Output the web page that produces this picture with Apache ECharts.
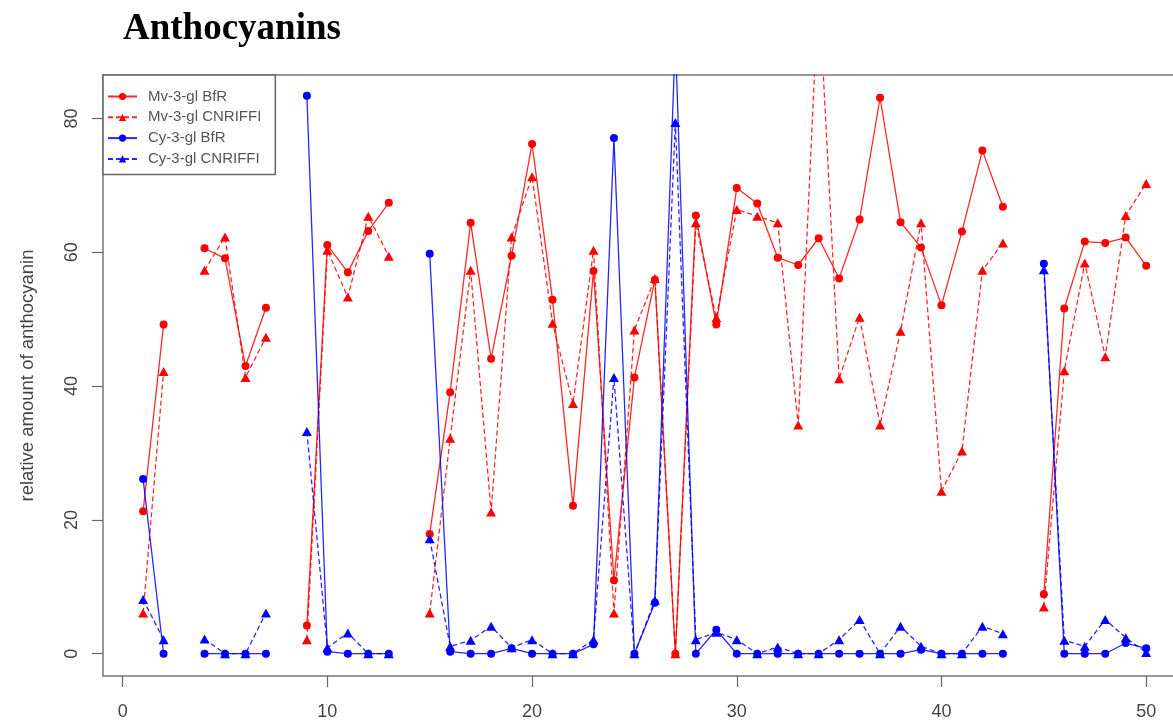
<!DOCTYPE html>
<html>
<head>
<meta charset="utf-8">
<script src="https://cdn.jsdelivr.net/npm/echarts@6/dist/echarts.min.js"></script>
<style>
html,body{margin:0;padding:0;background:#fff;}
#chart{width:1173px;height:721px;}
</style>
</head>
<body>
<div id="chart"></div>
<script>
// ---- data ----
var xValues = [1,2,3,4,5,6,7,8,9,10,11,12,13,14,15,16,17,18,19,20,21,22,23,24,25,26,27,28,29,30,31,32,33,34,35,36,37,38,39,40,41,42,43,44,45,46,47,48,49,50];
var mvBfR = [21.3,49.2,null,60.6,59.1,43.0,51.7,null,4.2,61.1,57.0,63.2,67.4,null,17.9,39.1,64.4,44.1,59.5,76.2,52.9,22.1,57.2,11.0,41.3,55.9,0,65.5,49.2,69.6,67.3,59.2,58.1,62.1,56.1,64.9,83.1,64.5,60.7,52.1,63.1,75.2,66.8,null,8.9,51.6,61.6,61.4,62.2,58.0];
var mvCN  = [6.1,42.2,null,57.3,62.3,41.3,47.3,null,2.1,60.3,53.3,65.4,59.4,null,6.1,32.2,57.3,21.2,62.3,71.3,49.4,37.4,60.3,6.1,48.4,56.1,0,64.4,50.2,66.4,65.4,64.4,34.2,100,41.1,50.3,34.2,48.2,64.4,24.3,30.3,57.3,61.4,null,7.0,42.3,58.4,44.4,65.5,70.3];
var cyBfR = [26.1,0,null,0,0,0,0,null,83.4,0.3,0,0,0,null,59.8,0.3,0,0,0.8,0,0,0,1.4,77.1,0,7.6,92,0,3.6,0,0,0,0,0,0,0,0,0,0.6,0,0,0,0,null,58.3,0,0,0,1.6,0.8];
var cyCN  = [8.1,2.1,null,2.2,0,0,6.1,null,33.2,0.9,3.1,0,0,null,17.2,1.1,2.0,4.1,0.9,2.1,0,0,2.1,41.3,0,8.0,79.4,2.1,3.2,2.1,0,1.0,0,0,2.1,5.1,0,4.1,1.1,0,0,4.1,3.0,null,57.4,2.0,1.1,5.1,2.4,0.2];
var seriesNames = ['Mv-3-gl BfR','Mv-3-gl CNRIFFI','Cy-3-gl BfR','Cy-3-gl CNRIFFI'];
var xTicks = [0,10,20,30,40,50];
var yTicks = [0,20,40,60,80];
var titleText = 'Anthocyanins';
var yAxisName = 'relative amount of anthocyanin';

function pairs(vals){ return xValues.map(function(x,i){ return [x, vals[i]]; }); }

var RED = '#ff0000', BLUE = '#0000ff';
function mk(name, vals, color, dashed, tri){
  return {
    name: name, type: 'line', data: pairs(vals), connectNulls: false,
    xAxisIndex: 0, yAxisIndex: 0,
    symbol: tri ? 'triangle' : 'circle',
    symbolSize: tri ? [10,9] : 8,
    showAllSymbol: true,
    itemStyle: {color: color},
    lineStyle: {color: color, width: 1.3, type: dashed ? [5,3] : 'solid', opacity: 0.85},
    emphasis: {disabled: true},
    animation: false
  };
}

var AX = '#777';
var chart = echarts.init(document.getElementById('chart'), null, {renderer: 'canvas'});
chart.setOption({
  animation: false,
  backgroundColor: '#fff',
  title: {
    text: titleText, left: 123, top: 11, padding: 0,
    textStyle: {fontFamily: 'Liberation Serif', fontWeight: 'bold', fontSize: 37, color: '#000'}
  },
  legend: {
    orient: 'vertical', left: 103, top: 75,
    padding: [14, 14, 8, 4],
    itemGap: 5.8, itemWidth: 29, itemHeight: 9,
    backgroundColor: '#fff', borderColor: '#666', borderWidth: 1.5,
    textStyle: {fontFamily: 'Liberation Sans', fontSize: 15, color: '#555', padding: [0,0,0,6]},
    data: seriesNames
  },
  grid: {left: 103, top: 75, right: 0, height: 602, show: false},
  xAxis: [{
    type: 'value', min: -0.96, max: 51.31, position: 'bottom',
    axisLine: {show: true, onZero: false, lineStyle: {color: AX, width: 1.5}},
    axisTick: {show: true, inside: false, length: 11, customValues: xTicks, lineStyle: {color: '#666', width: 1.2}},
    axisLabel: {customValues: xTicks, margin: 27, fontFamily: 'Liberation Sans', fontSize: 18, color: '#444'},
    splitLine: {show: false}
  }, {
    type: 'value', min: -0.96, max: 51.31, position: 'top',
    axisLine: {show: true, onZero: false, lineStyle: {color: AX, width: 1.5}},
    axisTick: {show: false}, axisLabel: {show: false}, splitLine: {show: false}
  }],
  yAxis: {
    type: 'value', min: -3.33, max: 86.5,
    name: yAxisName, nameLocation: 'middle', nameRotate: 90, nameGap: 66,
    nameTextStyle: {fontFamily: 'Liberation Sans', fontSize: 18.5, color: '#444'},
    axisLine: {show: true, onZero: false, lineStyle: {color: AX, width: 1.5}},
    axisTick: {show: true, inside: false, length: 11, customValues: yTicks, lineStyle: {color: '#666', width: 1.2}},
    axisLabel: {customValues: yTicks, rotate: 90, margin: 22, fontFamily: 'Liberation Sans', fontSize: 18, color: '#444'},
    splitLine: {show: false}
  },
  series: [
    mk(seriesNames[0], mvBfR, RED, false, false),
    mk(seriesNames[1], mvCN, RED, true, true),
    mk(seriesNames[2], cyBfR, BLUE, false, false),
    mk(seriesNames[3], cyCN, BLUE, true, true)
  ]
});
</script>
</body>
</html>
